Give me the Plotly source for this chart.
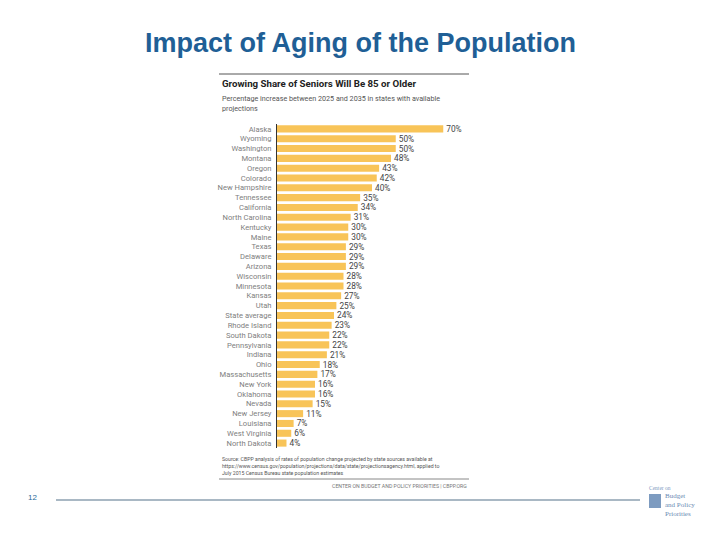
import plotly.graph_objects as go

states = ["Alaska", "Wyoming", "Washington", "Montana", "Oregon", "Colorado",
          "New Hampshire", "Tennessee", "California", "North Carolina", "Kentucky",
          "Maine", "Texas", "Delaware", "Arizona", "Wisconsin", "Minnesota", "Kansas",
          "Utah", "State average", "Rhode Island", "South Dakota", "Pennsylvania",
          "Indiana", "Ohio", "Massachusetts", "New York", "Oklahoma", "Nevada",
          "New Jersey", "Louisiana", "West Virginia", "North Dakota"]
increase = [70, 50, 50, 48, 43, 42, 40, 35, 34, 31, 30, 30, 29, 29, 29, 28, 28, 27,
            25, 24, 23, 22, 22, 21, 18, 17, 16, 16, 15, 11, 7, 6, 4]

fig = go.Figure()
fig.add_trace(go.Bar(
    x=increase, y=states, orientation="h",
    marker=dict(color="#F8C458", line=dict(width=0)),
    text=[f"{v}%" for v in increase], textposition="outside",
    constraintext="none",
    textfont=dict(family="Roboto", size=8.3, color="#444444"),
    cliponaxis=False, width=0.72,
))

W0, W1 = 277, 467
T0, T1 = 124, 448

fig.update_layout(
    width=720, height=540,
    margin=dict(l=W0, r=720 - W1, t=T0, b=540 - T1),
    paper_bgcolor="white", plot_bgcolor="white",
    showlegend=False,
    font=dict(family="Roboto"),
    xaxis=dict(range=[0, 80], visible=False, fixedrange=True),
    yaxis=dict(autorange="reversed", showline=True, linecolor="#333333", linewidth=1,
               ticks="", showgrid=False, ticklabelstandoff=3, fixedrange=True,
               tickmode="array", tickvals=states, ticktext=states,
               tickfont=dict(family="Roboto", size=7.6, color="#808080")),
)

def px(x):
    return (x - W0) / (W1 - W0)
def py(y):
    return (T1 - y) / (T1 - T0)

def ann(x, y, text, size, color, xanchor="left", family="Roboto", yanchor="middle"):
    fig.add_annotation(x=px(x), y=py(y), xref="paper", yref="paper", text=text, showarrow=False,
                       xanchor=xanchor, yanchor=yanchor, align="left", borderpad=0,
                       font=dict(family=family, size=size, color=color))

# Slide title
ann(360, 43, "<b>Impact of Aging of the Population</b>", 27, "#1F5F96", xanchor="center", family="Arial")

ann(221, 84, "<b>Growing Share of Seniors Will Be 85 or Older</b>", 9.7, "#222222")
ann(221, 98, "Percentage increase between 2025 and 2035 in states with available", 7.2, "#555555")
ann(221, 108, "projections", 7.2, "#555555")

ann(221, 459, "Source: CBPP analysis of rates of population change projected by state sources available at", 5.2, "#555555")
ann(221, 466, "https://www.census.gov/population/projections/data/state/projectionsagency.html, applied to", 5.2, "#555555")
ann(221, 473, "July 2015 Census Bureau state population estimates", 5.2, "#555555")
ann(468, 486, "CENTER ON BUDGET AND POLICY PRIORITIES | CBPP.ORG", 5.2, "#777777", xanchor="right")

# rules
fig.add_shape(type="line", xref="paper", yref="paper", x0=px(219), x1=px(469), y0=py(74), y1=py(74),
              line=dict(color="#555555", width=1))
fig.add_shape(type="line", xref="paper", yref="paper", x0=px(219), x1=px(469), y0=py(479), y1=py(479),
              line=dict(color="#888888", width=1))

# footer
ann(32, 497, "12", 8, "#2A6B9A", xanchor="center", family="Arial")
fig.add_shape(type="line", xref="paper", yref="paper", x0=px(56), x1=px(640), y0=py(500), y1=py(500),
              line=dict(color="#A9B8C4", width=2))

# logo
fig.add_shape(type="rect", xref="paper", yref="paper", x0=px(649), x1=px(661), y0=py(508), y1=py(494),
              fillcolor="#7D9BC0", line=dict(width=0))
ann(648, 488, "Center on", 5.5, "#7D9BC0", family="Liberation Serif")
fig.add_annotation(x=px(664), y=py(505), xref="paper", yref="paper",
                   text="Budget<br>and Policy<br>Priorities", showarrow=False,
                   xanchor="left", yanchor="middle", align="left", borderpad=0,
                   font=dict(family="Liberation Serif", size=7, color="#6C8BB3"))

fig.write_html("out.html", config={"displayModeBar": False},
               post_script="document.body.style.margin='0';")
